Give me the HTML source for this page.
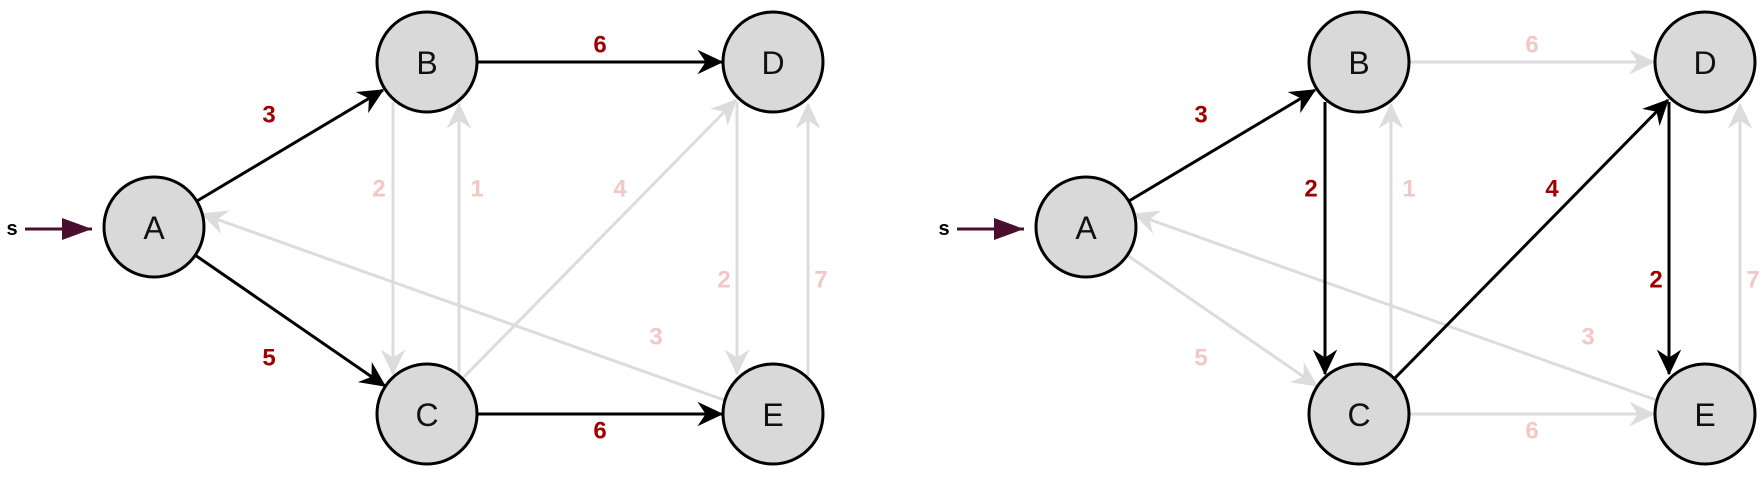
<!DOCTYPE html>
<html><head><meta charset="utf-8"><style>
html,body{margin:0;padding:0;background:#fff;}
svg{display:block;}
.n{fill:#d9d9d9;stroke:#000;stroke-width:3;}
.t{font-family:"Liberation Sans",sans-serif;font-size:32px;font-weight:300;text-anchor:middle;dominant-baseline:central;fill:#111;}
.k{stroke:#000;stroke-width:3;fill:none;}
.g{stroke:#dcdcdc;stroke-width:3;fill:none;}
.lr{font-family:"Liberation Sans",sans-serif;font-size:24px;font-weight:bold;fill:#a00000;text-anchor:middle;dominant-baseline:central;}
.lp{font-family:"Liberation Sans",sans-serif;font-size:24px;font-weight:bold;fill:#f4c7c7;text-anchor:middle;dominant-baseline:central;}
</style></head><body>
<svg width="1762" height="477" viewBox="0 0 1762 477" xmlns="http://www.w3.org/2000/svg">
<defs>
<marker id="ak" markerUnits="userSpaceOnUse" markerWidth="30" markerHeight="30" refX="0" refY="0" viewBox="-20 -10 22 20" orient="auto"><path d="M1,0 L-18,-9 L-12,0 L-18,9 Z" fill="#000"/></marker>
<marker id="ag" markerUnits="userSpaceOnUse" markerWidth="30" markerHeight="30" refX="0" refY="0" viewBox="-20 -10 22 20" orient="auto"><path d="M1,0 L-18,-9 L-12,0 L-18,9 Z" fill="#dcdcdc"/></marker>
<marker id="as" markerUnits="userSpaceOnUse" markerWidth="34" markerHeight="24" refX="0" refY="0" viewBox="-32 -12 34 24" orient="auto"><path d="M0,0 L-30,-11 L-30,11 Z" fill="#4a0e2e"/></marker>
</defs>

<g>
<line x1="25" y1="229" x2="92" y2="229" stroke="#4a0e2e" stroke-width="3" marker-end="url(#as)"/>
<text x="12" y="229" font-family="Liberation Sans" font-weight="bold" font-size="20" text-anchor="middle" dominant-baseline="central">s</text>

<line class="g" x1="393" y1="102" x2="393" y2="374" marker-end="url(#ag)"/>
<line class="g" x1="459" y1="376" x2="459" y2="104" marker-end="url(#ag)"/>
<line class="g" x1="463" y1="378" x2="736" y2="100" marker-end="url(#ag)"/>
<line class="g" x1="737" y1="102" x2="737" y2="374" marker-end="url(#ag)"/>
<line class="g" x1="808" y1="376" x2="808" y2="104" marker-end="url(#ag)"/>
<line class="g" x1="724" y1="400" x2="202" y2="214" marker-end="url(#ag)"/>

<line class="k" x1="197" y1="201" x2="383" y2="90" marker-end="url(#ak)"/>
<line class="k" x1="195" y1="255" x2="385" y2="386" marker-end="url(#ak)"/>
<line class="k" x1="476" y1="62" x2="722" y2="62" marker-end="url(#ak)"/>
<line class="k" x1="476" y1="414" x2="722" y2="414" marker-end="url(#ak)"/>

<circle class="n" cx="154" cy="227" r="50"/><text class="t" x="154" y="228">A</text>
<circle class="n" cx="427" cy="62" r="50"/><text class="t" x="427" y="63">B</text>
<circle class="n" cx="773" cy="62" r="50"/><text class="t" x="773" y="63">D</text>
<circle class="n" cx="427" cy="414" r="50"/><text class="t" x="427" y="415">C</text>
<circle class="n" cx="773" cy="414" r="50"/><text class="t" x="773" y="415">E</text>

<text class="lr" x="269" y="115">3</text>
<text class="lr" x="269" y="358">5</text>
<text class="lr" x="600" y="45">6</text>
<text class="lr" x="600" y="431">6</text>
<text class="lp" x="379" y="189">2</text>
<text class="lp" x="477" y="189">1</text>
<text class="lp" x="620" y="189">4</text>
<text class="lp" x="724" y="280">2</text>
<text class="lp" x="821" y="280">7</text>
<text class="lp" x="656" y="337">3</text>
</g>

<g transform="translate(932,0)">
<line x1="25" y1="229" x2="92" y2="229" stroke="#4a0e2e" stroke-width="3" marker-end="url(#as)"/>
<text x="12" y="229" font-family="Liberation Sans" font-weight="bold" font-size="20" text-anchor="middle" dominant-baseline="central">s</text>

<line class="g" x1="195" y1="255" x2="385" y2="386" marker-end="url(#ag)"/>
<line class="g" x1="476" y1="62" x2="722" y2="62" marker-end="url(#ag)"/>
<line class="g" x1="476" y1="414" x2="722" y2="414" marker-end="url(#ag)"/>
<line class="g" x1="459" y1="376" x2="459" y2="104" marker-end="url(#ag)"/>
<line class="g" x1="808" y1="376" x2="808" y2="104" marker-end="url(#ag)"/>
<line class="g" x1="724" y1="400" x2="202" y2="214" marker-end="url(#ag)"/>

<line class="k" x1="197" y1="201" x2="383" y2="90" marker-end="url(#ak)"/>
<line class="k" x1="393" y1="102" x2="393" y2="374" marker-end="url(#ak)"/>
<line class="k" x1="463" y1="378" x2="736" y2="100" marker-end="url(#ak)"/>
<line class="k" x1="737" y1="102" x2="737" y2="374" marker-end="url(#ak)"/>

<circle class="n" cx="154" cy="227" r="50"/><text class="t" x="154" y="228">A</text>
<circle class="n" cx="427" cy="62" r="50"/><text class="t" x="427" y="63">B</text>
<circle class="n" cx="773" cy="62" r="50"/><text class="t" x="773" y="63">D</text>
<circle class="n" cx="427" cy="414" r="50"/><text class="t" x="427" y="415">C</text>
<circle class="n" cx="773" cy="414" r="50"/><text class="t" x="773" y="415">E</text>

<text class="lr" x="269" y="115">3</text>
<text class="lp" x="269" y="358">5</text>
<text class="lp" x="600" y="45">6</text>
<text class="lp" x="600" y="431">6</text>
<text class="lr" x="379" y="189">2</text>
<text class="lp" x="477" y="189">1</text>
<text class="lr" x="620" y="189">4</text>
<text class="lr" x="724" y="280">2</text>
<text class="lp" x="821" y="280">7</text>
<text class="lp" x="656" y="337">3</text>
</g>
</svg>
</body></html>
